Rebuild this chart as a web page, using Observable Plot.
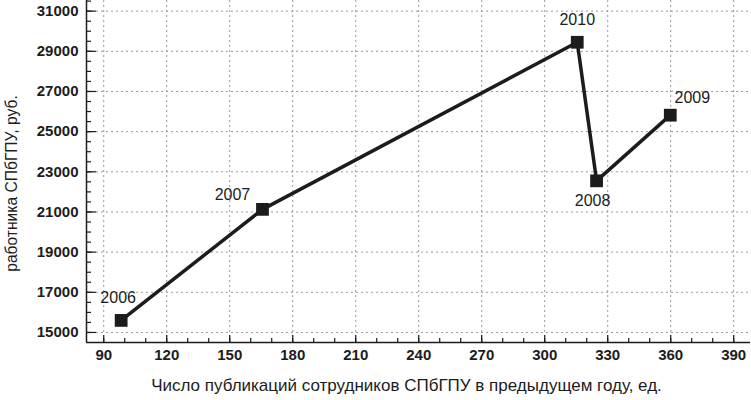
<!DOCTYPE html>
<html>
<head>
<meta charset="utf-8">
<script src="https://cdn.jsdelivr.net/npm/d3@7"></script>
<script src="https://cdn.jsdelivr.net/npm/@observablehq/plot@0.6"></script>
<style>
  html, body { margin: 0; padding: 0; background: #fff; }
  svg { display: block; }
</style>
</head>
<body>
<div id="chart"></div>
<script>
// Data (order as the line is drawn)
const years = ["2006", "2007", "2010", "2008", "2009"];
const publications = [98.3, 165.6, 315.5, 324.7, 359.8];
const salaries = [15600, 21130, 29450, 22550, 25820];

const xMajorTicks = [90, 120, 150, 180, 210, 240, 270, 300, 330, 360, 390];
const xMinorTicks = d3.range(90, 391, 10);
const yMajorTicks = [15000, 17000, 19000, 21000, 23000, 25000, 27000, 29000, 31000];
const yMinorTicks = d3.range(15000, 31501, 500);

const xTitle = "Число публикаций сотрудников СПбГПУ в предыдущем году, ед.";
const yTitle = "работника СПбГПУ, руб.";

const data = years.map((year, i) => ({year, x: publications[i], y: salaries[i]}));

// label placement (styling only)
const labelOffsets = {
  "2006": [-3, -23],
  "2007": [-30, -14],
  "2010": [0, -22],
  "2008": [-4, 20],
  "2009": [22, -17]
};

const ink = "#1c1c1c";
const gridStyle = {stroke: "#999", strokeOpacity: 1, strokeDasharray: "2,3", strokeWidth: 1};

const chart = Plot.plot({
  width: 751,
  height: 400,
  marginLeft: 86,
  marginRight: 1,
  marginTop: 0,
  marginBottom: 58,
  style: {fontFamily: "'Liberation Sans', Arial, sans-serif", background: "#fff", color: ink},
  x: {domain: [81.8, 398]},
  y: {domain: [14500, 31530]},
  marks: [
    Plot.gridX(xMajorTicks, gridStyle),
    Plot.gridY(yMajorTicks, gridStyle),
    // minor ticks (inward)
    Plot.axisX(xMinorTicks, {tickSize: -4, tickFormat: () => "", stroke: ink, strokeWidth: 1.2, label: null}),
    Plot.axisY(yMinorTicks, {tickSize: -5, tickFormat: () => "", stroke: ink, strokeWidth: 1.2, label: null}),
    // major ticks with labels
    Plot.axisX(xMajorTicks, {tickSize: -7, tickPadding: 14, tickFormat: d => String(d), fontSize: 15, fontWeight: "bold", stroke: ink, strokeWidth: 1.2, label: null}),
    Plot.axisY(yMajorTicks, {tickSize: -10, tickPadding: 18, tickFormat: d => String(d), fontSize: 15, fontWeight: "bold", stroke: ink, strokeWidth: 1.2, label: null}),
    Plot.ruleX([81.8], {stroke: ink, strokeWidth: 1.5}),
    Plot.ruleY([14500], {stroke: ink, strokeWidth: 1.5}),
    Plot.line(data, {x: "x", y: "y", stroke: ink, strokeWidth: 3.5}),
    Plot.dot(data, {x: "x", y: "y", symbol: "square", r: 7.2, fill: ink, stroke: "none"}),
    ...years.map(yr => Plot.text(data.filter(d => d.year === yr), {
      x: "x", y: "y", text: "year", fontSize: 16, fill: ink,
      dx: labelOffsets[yr][0], dy: labelOffsets[yr][1]
    })),
    Plot.text([xTitle], {frameAnchor: "bottom", dy: 48, dx: -12, fontSize: 17, fill: ink}),
    Plot.text([yTitle], {frameAnchor: "left", textAnchor: "middle", rotate: -90, dx: -75, dy: 12, fontSize: 15.6, fill: ink})
  ]
});

document.getElementById("chart").appendChild(chart);
</script>
</body>
</html>
